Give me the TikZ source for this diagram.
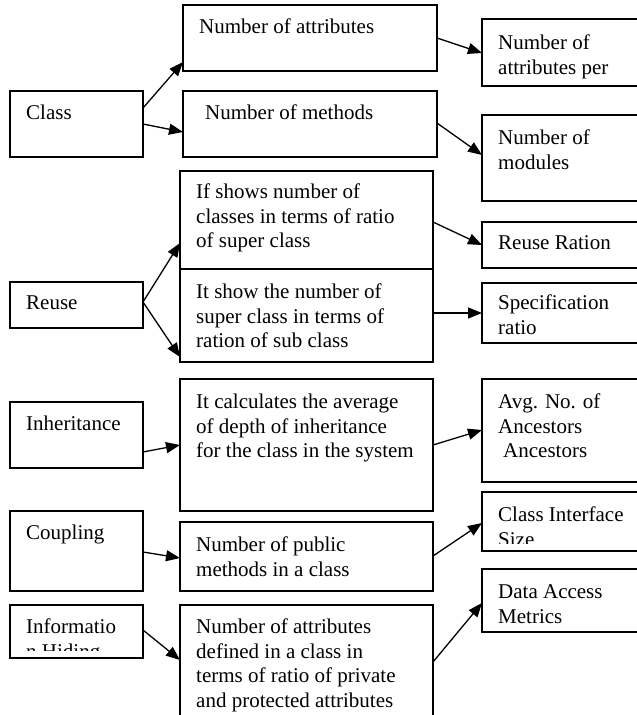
\documentclass[tikz,border=0pt]{standalone}
\usepackage{fontspec}
\setmainfont{Liberation Serif}
\usetikzlibrary{arrows.meta,calc}
\tikzset{
  box/.style={draw, line width=1.6pt, inner sep=0pt, outer sep=0pt, anchor=north west},
  txt/.style={inner sep=0pt, anchor=north west, align=left, font=\fontsize{21}{24.5}\selectfont},
  arr/.style={line width=1.3pt, -{Triangle[length=14pt,width=11pt]}},
}
\newcommand\mkbox[5]{\node[box, minimum width=#4pt, minimum height=#5pt] (#1) at (#2,#3) {};}
\newcommand\mktext[4]{\node[txt] (#1t) at ($(#1.north west)+(#2,#3)$) {\strut #4};}
\begin{document}
\begin{tikzpicture}[x=1pt,y=-1pt]
\fill[white] (0,0) rectangle (637,715);
\useasboundingbox (0,0) rectangle (637,715);
% left column
\mkbox{class}{10}{91}{133}{66}
\mkbox{reuse}{10}{282}{133}{46}
\mkbox{inh}{10}{402}{133}{66}
\mkbox{coup}{10}{511}{133}{80}
\mkbox{info}{10}{605}{133}{53}
% middle column
\mkbox{noa}{183}{5}{254}{66}
\mkbox{nom}{183}{91}{254}{66}
\mkbox{ifs}{180}{171}{253}{98}
\mkbox{its}{180}{269}{253}{93}
\mkbox{itc}{180}{379}{253}{132}
\mkbox{nop}{180}{522}{253}{69}
\mkbox{noad}{180}{605}{253}{130}
% right column
\mkbox{noaper}{482}{19}{170}{67}
\mkbox{nomod}{482}{115}{170}{86}
\mkbox{rr}{482}{222}{170}{46}
\mkbox{spec}{482}{283}{170}{60}
\mkbox{avg}{482}{379}{170}{103}
\mkbox{ci}{482}{492}{170}{59}
\mkbox{da}{482}{569}{170}{63}
% texts
\mktext{class}{16}{11.5}{Class}
\mktext{reuse}{16}{10.5}{Reuse}
\mktext{inh}{16}{11.5}{Inheritance}
\mktext{coup}{16}{11.5}{Coupling}
\begin{scope}
\clip (info.north west) rectangle ($(info.south east)+(0,-8)$);
\mktext{info}{16}{11.5}{Informatio\\n Hiding}
\end{scope}
\mktext{noa}{16}{11.5}{Number of attributes}
\mktext{nom}{22}{11.5}{Number of methods}
\mktext{ifs}{16}{10.5}{If shows number of\\classes in terms of ratio\\of super class}
\mktext{its}{16}{12.5}{It show the number of\\super class in terms of\\ration of sub class}
\mktext{itc}{16}{12.5}{It calculates the average\\of depth of inheritance\\for the class in the system}
\mktext{nop}{16}{12.5}{Number of public\\methods in a class}
\mktext{noad}{16}{11.5}{Number of attributes\\defined in a class in\\terms of ratio of private\\and protected attributes}
\mktext{noaper}{16}{13.5}{Number of\\attributes per}
\mktext{nomod}{16}{12.5}{Number of\\modules}
\mktext{rr}{16}{10.5}{Reuse Ration}
\mktext{spec}{16}{9.5}{Specification\\ratio}
\mktext{avg}{16}{12.5}{Avg. No. of\\Ancestors\\\hspace*{5pt}Ancestors}
\begin{scope}
\clip (ci.north west) rectangle ($(ci.south east)+(0,-8)$);
\mktext{ci}{16}{12.5}{Class Interface\\Size}
\end{scope}
\mktext{da}{16}{12.5}{Data Access\\Metrics}
% connectors
\draw[arr] ($(class.north east)+(0,17)$) -- ($(noa.south west)+(0,-9)$);
\draw[arr] ($(class.north east)+(0,33)$) -- ($(nom.north west)+(0,41)$);
\draw[arr] ($(noa.north east)+(0,33)$) -- ($(noaper.north west)+(0,34)$);
\draw[arr] ($(nom.north east)+(0,32)$) -- ($(nomod.north west)+(0,40)$);
\draw[arr] ($(ifs.north east)+(0,51)$) -- ($(rr.north west)+(0,23)$);
\draw[arr] ($(its.north east)+(0,44)$) -- ($(spec.north west)+(0,30)$);
\draw[arr] ($(reuse.north east)+(0,20)$) -- ($(ifs.south west)+(0,-26)$);
\draw[arr] ($(reuse.north east)+(0,20)$) -- ($(its.south west)+(0,-5)$);
\draw[arr] ($(inh.north east)+(0,50)$) -- ($(itc.north west)+(0,66)$);
\draw[arr] ($(itc.north east)+(0,66)$) -- ($(avg.north west)+(0,51)$);
\draw[arr] ($(coup.north east)+(0,41)$) -- ($(nop.north west)+(0,36)$);
\draw[arr] ($(nop.north east)+(0,34)$) -- ($(ci.north west)+(0,31)$);
\draw[arr] ($(info.north east)+(0,25)$) -- ($(noad.north west)+(0,55)$);
\draw[arr] ($(noad.north east)+(0,57)$) -- ($(da.north west)+(0,34)$);
\end{tikzpicture}
\end{document}
